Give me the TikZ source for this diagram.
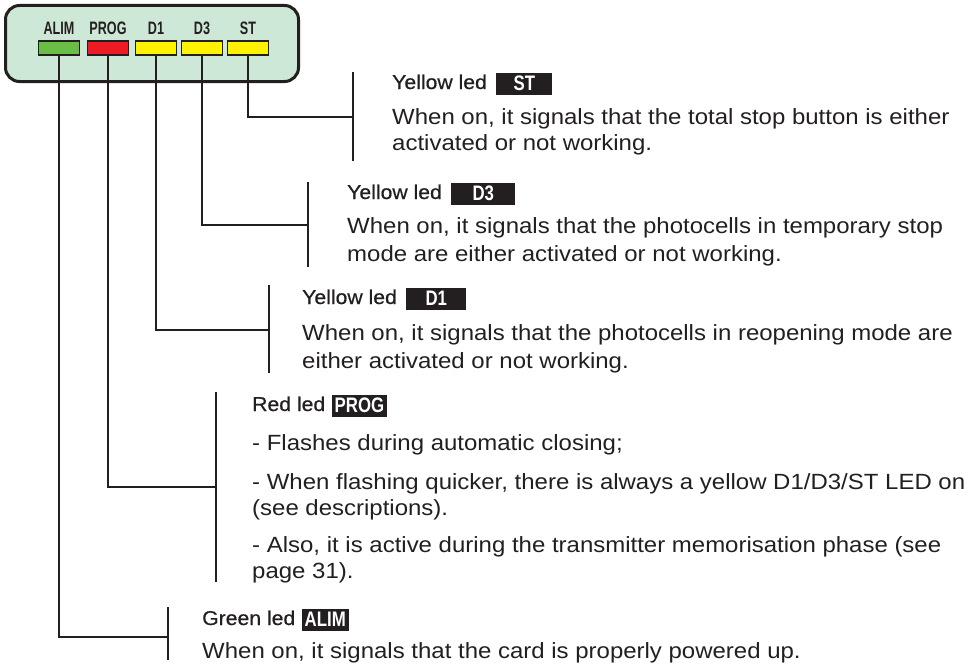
\documentclass[tikz,border=0pt]{standalone}
\usepackage{fontspec}
\setmainfont{Liberation Sans}[FakeStretch=1.09]
\newfontfamily\titlefont{Liberation Sans}[FakeStretch=1.06, BoldFont={Liberation Sans}, BoldFeatures={FakeBold=0.6}]
\newfontfamily\ledfont{Liberation Sans}[FakeStretch=0.7]
\newfontfamily\tagfont{Liberation Sans}[FakeStretch=0.8]
\definecolor{panelgreen}{RGB}{206,232,215}
\definecolor{ledgreen}{RGB}{106,189,69}
\definecolor{ledred}{RGB}{237,28,36}
\definecolor{ledyellow}{RGB}{255,242,0}
\definecolor{ink}{RGB}{35,31,32}
\begin{document}
\begin{tikzpicture}[x=1pt,y=-1pt,
  panel/.style={draw=ink, line width=3pt, rounded corners=14pt, fill=panelgreen, inner sep=0},
  led/.style={draw=ink, line width=1.2pt, minimum width=41pt, minimum height=14pt, inner sep=0},
  ledlabel/.style={anchor=base, inner sep=0, text=ink, font=\ledfont\bfseries\fontsize{18}{18}\selectfont},
  wire/.style={draw=ink, line width=2pt},
  title/.style={anchor=base west, inner sep=0, text=ink, font=\titlefont\bfseries\fontsize{20}{24}\selectfont},
  body/.style={anchor=base west, inner sep=0, text=ink, font=\fontsize{22}{26}\selectfont},
  tag/.style={anchor=west, fill=ink, text=white, inner sep=3pt, minimum height=22pt, font=\tagfont\bfseries\fontsize{21}{21}\selectfont}
]
\useasboundingbox (0,0) rectangle (974,669);
% panel
\node[panel, minimum width=293pt, minimum height=76pt] (panel) at (152,43.5) {};
% leds
\node[led, fill=ledgreen]  (alim) at (59,48) {};
\node[led, fill=ledred]    (prog) at (108,48) {};
\node[led, fill=ledyellow] (d1)   at (156,48) {};
\node[led, fill=ledyellow] (d3)   at (202,48) {};
\node[led, fill=ledyellow] (st)   at (248,48) {};
\node[ledlabel] (l-alim) at (59,35) {ALIM};
\node[ledlabel] (l-prog) at (108,35) {PROG};
\node[ledlabel] (l-d1)   at (156,35) {D1};
\node[ledlabel] (l-d3)   at (202,35) {D3};
\node[ledlabel] (l-st)   at (248,35) {ST};
% brackets
\coordinate (st-top) at (353,72);   \coordinate (st-bot) at (353,161);  \coordinate (st-mid) at (353,117);
\coordinate (d3-top) at (308,182);  \coordinate (d3-bot) at (308,267);  \coordinate (d3-mid) at (308,225);
\coordinate (d1-top) at (269,285);  \coordinate (d1-bot) at (269,373);  \coordinate (d1-mid) at (269,330);
\coordinate (pr-top) at (216,392);  \coordinate (pr-bot) at (216,582);  \coordinate (pr-mid) at (216,487);
\coordinate (al-top) at (168,607);  \coordinate (al-bot) at (168,660);  \coordinate (al-mid) at (168,637);
\foreach \b in {st,d3,d1,pr,al}{\draw[wire] (\b-top) -- (\b-bot);}
\draw[wire] (st.south) |- (st-mid);
\draw[wire] (d3.south) |- (d3-mid);
\draw[wire] (d1.south) |- (d1-mid);
\draw[wire] (prog.south) |- (pr-mid);
\draw[wire] (alim.south) |- (al-mid);
% ST text
\node[title] (st-title) at (392,89) {Yellow led};
\node[tag, minimum width=56pt] (st-tag) at ([xshift=9pt,yshift=5.5pt]st-title.base east) {ST};
\node[body] (st-b1) at (392,124) {When on, it signals that the total stop button is either};
\node[body] (st-b2) at (392,150) {activated or not working.};
% D3 text
\node[title] (d3-title) at (347,199) {Yellow led};
\node[tag, minimum width=64pt] (d3-tag) at ([xshift=9pt,yshift=5.5pt]d3-title.base east) {D3};
\node[body] (d3-b1) at (347,233) {When on, it signals that the photocells in temporary stop};
\node[body] (d3-b2) at (347,261) {mode are either activated or not working.};
% D1 text
\node[title] (d1-title) at (302,304) {Yellow led};
\node[tag, minimum width=60pt] (d1-tag) at ([xshift=9pt,yshift=5.5pt]d1-title.base east) {D1};
\node[body] (d1-b1) at (302,340) {When on, it signals that the photocells in reopening mode are};
\node[body] (d1-b2) at (302,368) {either activated or not working.};
% PROG text
\node[title] (pr-title) at (252,411) {Red led};
\node[tag] (pr-tag) at ([xshift=6pt,yshift=5.5pt]pr-title.base east) {PROG};
\node[body] (pr-b1) at (252,450) {- Flashes during automatic closing;};
\node[body] (pr-b2) at (252,489) {- When flashing quicker, there is always a yellow D1/D3/ST LED on};
\node[body] (pr-b3) at (252,515) {(see descriptions).};
\node[body] (pr-b4) at (252,552) {- Also, it is active during the transmitter memorisation phase (see};
\node[body] (pr-b5) at (252,578) {page 31).};
% ALIM text
\node[title] (al-title) at (202,625) {Green led};
\node[tag] (al-tag) at ([xshift=6pt,yshift=5.5pt]al-title.base east) {ALIM};
\node[body] (al-b1) at (202,658) {When on, it signals that the card is properly powered up.};
\end{tikzpicture}
\end{document}
